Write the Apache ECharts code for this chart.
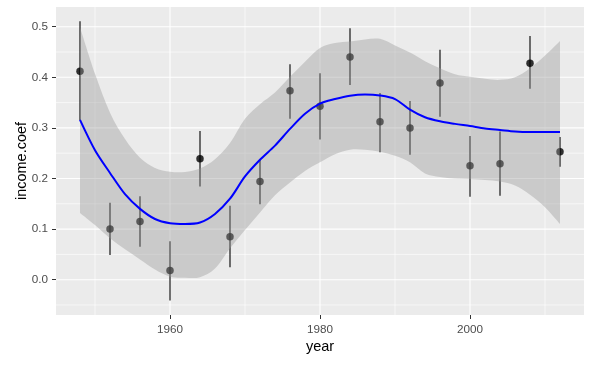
<!DOCTYPE html>
<html><head><meta charset="utf-8">
<script src="https://cdn.jsdelivr.net/npm/echarts@6/dist/echarts.min.js"></script>
<style>html,body{margin:0;padding:0;background:#fff}#c{width:594px;height:366px}</style>
</head><body><div id="c"></div>
<script>
// survey years and coefficient estimates with interval bounds
const years = [1948,1952,1956,1960,1964,1968,1972,1976,1980,1984,1988,1992,1996,2000,2004,2008,2012];
const coef  = [0.412,0.100,0.115,0.018,0.239,0.085,0.194,0.3735,0.343,0.440,0.312,0.300,0.389,0.225,0.229,0.428,0.253];
const lower = [0.315,0.049,0.065,-0.041,0.184,0.0245,0.149,0.318,0.277,0.385,0.252,0.247,0.322,0.164,0.166,0.3775,0.223];
const upper = [0.511,0.152,0.165,0.076,0.294,0.146,0.237,0.426,0.408,0.497,0.369,0.353,0.4545,0.284,0.293,0.4816,0.282];

// smoother (loess) fit and its confidence band
const smoothYears = [1948,1950,1952,1954,1956,1958,1960,1962,1964,1966,1968,1970,1972,1974,1976,1978,1980,1982,1984,1986,1988,1990,1992,1994,1996,1998,2000,2002,2004,2006,2008,2010,2012];
const fit       = [0.316,0.256,0.211,0.169,0.140,0.120,0.1115,0.110,0.113,0.130,0.160,0.204,0.237,0.265,0.298,0.328,0.348,0.357,0.3636,0.366,0.364,0.357,0.336,0.321,0.313,0.308,0.3037,0.299,0.296,0.293,0.292,0.292,0.292];
const bandHigh  = [0.499,0.407,0.330,0.278,0.241,0.221,0.2135,0.213,0.220,0.238,0.270,0.318,0.347,0.370,0.401,0.431,0.458,0.468,0.471,0.475,0.476,0.463,0.449,0.432,0.418,0.406,0.401,0.397,0.395,0.400,0.418,0.443,0.472];
const bandLow   = [0.132,0.108,0.082,0.060,0.040,0.020,0.006,0.004,0.005,0.022,0.062,0.098,0.133,0.167,0.192,0.215,0.232,0.248,0.257,0.257,0.253,0.245,0.232,0.210,0.203,0.200,0.199,0.197,0.194,0.186,0.168,0.143,0.110];

// axis ticks
const xTicks = [1960,1980,2000];
const xMinor = [1950,1970,1990,2010];
const yTicks = [0.0,0.1,0.2,0.3,0.4,0.5];
const yMinor = [-0.05,0.05,0.15,0.25,0.35,0.45];

const X_MIN = 1944.8, X_MAX = 2015.2, Y_MIN = -0.0698, Y_MAX = 0.539;
const FONT = '"Liberation Sans", Arial, sans-serif';

// Catmull-Rom curve through screen points (rendering helper)
function curvePath(pts, start) {
  let d = start ? 'M' + pts[0][0] + ' ' + pts[0][1] : 'L' + pts[0][0] + ' ' + pts[0][1];
  const n = pts.length;
  for (let i = 0; i < n - 1; i++) {
    const p0 = pts[Math.max(i - 1, 0)], p1 = pts[i], p2 = pts[i + 1], p3 = pts[Math.min(i + 2, n - 1)];
    const c1 = [p1[0] + (p2[0] - p0[0]) / 6, p1[1] + (p2[1] - p0[1]) / 6];
    const c2 = [p2[0] - (p3[0] - p1[0]) / 6, p2[1] - (p3[1] - p1[1]) / 6];
    d += ' C' + c1[0] + ' ' + c1[1] + ' ' + c2[0] + ' ' + c2[1] + ' ' + p2[0] + ' ' + p2[1];
  }
  return d;
}

const chart = echarts.init(document.getElementById('c'), null, {renderer: 'canvas'});

const option = {
  animation: false,
  grid: {left: 56, right: 10, top: 7, bottom: 51, show: true, backgroundColor: '#EBEBEB', borderWidth: 0},
  xAxis: {
    type: 'value', min: X_MIN, max: X_MAX,
    name: 'year', nameLocation: 'middle', nameGap: 24, nameMoveOverlap: false,
    nameTextStyle: {color: '#000', fontSize: 14.5, fontFamily: FONT},
    axisLine: {show: true, onZero: false, lineStyle: {color: 'rgba(0,0,0,0)', width: 0}},
    axisTick: {show: true, inside: false, length: 4, lineStyle: {color: '#333333', width: 1}, customValues: xTicks},
    axisLabel: {customValues: xTicks, color: '#4D4D4D', fontSize: 11.7, fontFamily: FONT, margin: 9,
      formatter: v => String(Math.round(v))},
    splitLine: {show: false}
  },
  yAxis: {
    type: 'value', min: Y_MIN, max: Y_MAX,
    name: 'income.coef', nameLocation: 'middle', nameGap: 27, nameMoveOverlap: false,
    nameTextStyle: {color: '#000', fontSize: 14.5, fontFamily: FONT},
    axisLine: {show: true, onZero: false, lineStyle: {color: 'rgba(0,0,0,0)', width: 0}},
    axisTick: {show: true, inside: false, length: 4, lineStyle: {color: '#333333', width: 1}, customValues: yTicks},
    axisLabel: {customValues: yTicks, color: '#4D4D4D', fontSize: 11.7, fontFamily: FONT, margin: 8,
      formatter: v => Number(v).toFixed(1)},
    splitLine: {show: false}
  },
  series: [
    { // panel grid lines
      type: 'custom', z: 1, silent: true, data: [[X_MIN, Y_MIN]],
      renderItem: (params, api) => {
        const children = [];
        const seg = (a, b, color, w) => children.push({type: 'line',
          shape: {x1: a[0], y1: a[1], x2: b[0], y2: b[1]}, style: {stroke: color, lineWidth: w}});
        const vline = (x, w) => seg(api.coord([x, Y_MIN]), api.coord([x, Y_MAX]), '#FFFFFF', w);
        const hline = (y, w) => seg(api.coord([X_MIN, y]), api.coord([X_MAX, y]), '#FFFFFF', w);
        xMinor.forEach(v => vline(v, 0.6));
        yMinor.forEach(v => hline(v, 0.6));
        xTicks.forEach(v => vline(v, 1.1));
        yTicks.forEach(v => hline(v, 1.1));
        return {type: 'group', children};
      }
    },
    { // error bars
      type: 'custom', z: 2, silent: true,
      data: years.map((y, i) => [y, lower[i], upper[i]]),
      encode: {x: 0, y: [1, 2]},
      renderItem: (params, api) => {
        const a = api.coord([api.value(0), api.value(1)]);
        const b = api.coord([api.value(0), api.value(2)]);
        return {type: 'line', shape: {x1: a[0], y1: a[1], x2: b[0], y2: b[1]}, style: {stroke: '#000000', lineWidth: 1.1}};
      }
    },
    { // points
      type: 'scatter', z: 3, silent: true, symbol: 'circle', symbolSize: 7.5,
      itemStyle: {color: '#000000'},
      data: years.map((y, i) => [y, coef[i]])
    },
    { // confidence ribbon
      type: 'custom', z: 4, silent: true, data: [[smoothYears[0], bandLow[0]]],
      renderItem: (params, api) => {
        const top = smoothYears.map((y, i) => api.coord([y, bandHigh[i]]));
        const bot = smoothYears.map((y, i) => api.coord([y, bandLow[i]])).reverse();
        const d = curvePath(top, true) + ' ' + curvePath(bot, false) + ' Z';
        return {type: 'path', shape: {pathData: d}, style: {fill: 'rgba(153,153,153,0.4)'}};
      }
    },
    { // smooth fit
      type: 'line', z: 5, silent: true, smooth: 0.3, showSymbol: false, symbol: 'none',
      lineStyle: {color: '#0000FF', width: 2},
      data: smoothYears.map((y, i) => [y, fit[i]])
    }
  ]
};
chart.setOption(option);
</script>
</body></html>
